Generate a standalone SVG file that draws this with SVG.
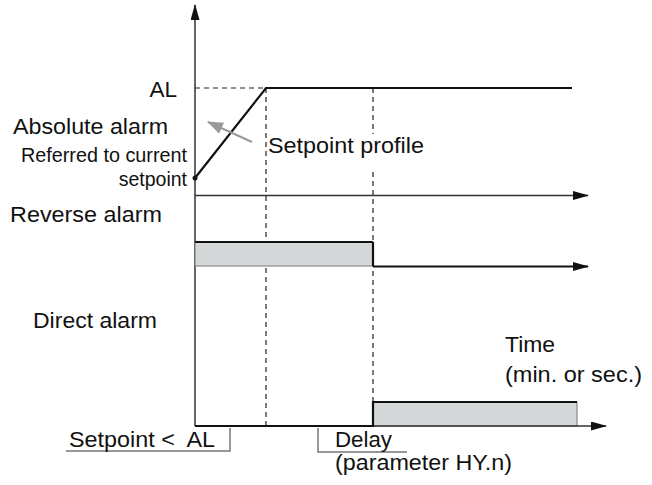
<svg xmlns="http://www.w3.org/2000/svg" width="652" height="485" viewBox="0 0 652 485">
<style>
text{font-family:"Liberation Sans",Arial,sans-serif;fill:#111}
.big{font-size:22.5px}
.sm{font-size:19.5px}
.axis{stroke:#333;stroke-width:1.5;fill:none}
.thick{stroke:#111;stroke-width:2.2;fill:none}
.dash{stroke:#222;stroke-width:1.2;stroke-dasharray:5,4;fill:none}
.brk{stroke:#777;stroke-width:1.5;fill:none}
.box{fill:#d5d8d8;stroke:#777;stroke-width:1}
</style>
<defs>
<marker id="ah" markerWidth="16" markerHeight="10" refX="15" refY="4.5" orient="auto" markerUnits="userSpaceOnUse">
<path d="M0,0 L16,4.5 L0,9 Z" fill="#111"/>
</marker>
<marker id="ahg" markerWidth="16" markerHeight="12" refX="15" refY="6" orient="auto" markerUnits="userSpaceOnUse">
<path d="M0,0 L16,6 L0,12 Z" fill="#999"/>
</marker>
</defs>
<g id="connectors">
<line class="axis" x1="195" y1="426" x2="195" y2="5" marker-end="url(#ah)"/>
<line class="axis" x1="195" y1="195.5" x2="588" y2="195.5" marker-end="url(#ah)"/>
<line class="dash" x1="195" y1="88" x2="266" y2="88"/>
<line class="dash" x1="266" y1="88" x2="266" y2="426"/>
<line class="dash" x1="373" y1="88" x2="373" y2="134"/>
<line class="dash" x1="373" y1="172" x2="373" y2="402"/>
<polyline class="thick" points="195,178 266,88 572,88"/>
<circle cx="195" cy="178" r="2.5" fill="#111"/>
<line x1="252" y1="142" x2="208" y2="122" stroke="#999" stroke-width="2" marker-end="url(#ahg)"/>
<rect class="box" x="195" y="242" width="178" height="24"/>
<line class="thick" x1="195" y1="242" x2="373" y2="242"/>
<line class="thick" x1="373" y1="242" x2="373" y2="266"/>
<line class="thick" x1="373" y1="266.5" x2="588" y2="266.5" marker-end="url(#ah)"/>
<rect class="box" x="373" y="402" width="204" height="24"/>
<line class="axis" x1="373" y1="426" x2="606" y2="426" marker-end="url(#ah)"/>
<polyline class="thick" points="195,426 373,426 373,402 577,402"/>
<polyline class="brk" points="66,451 230,451 230,428"/>
<polyline class="brk" points="318,428 318,452 407,452"/>
</g>
<g id="labels">
<text class="big" x="177" y="97" text-anchor="end">AL</text>
<text class="big" x="13" y="134" textLength="155" lengthAdjust="spacingAndGlyphs">Absolute alarm</text>
<text class="sm" x="21" y="162" textLength="166" lengthAdjust="spacingAndGlyphs">Referred to current</text>
<text class="sm" x="187" y="186" text-anchor="end">setpoint</text>
<text class="big" x="268" y="153" textLength="156" lengthAdjust="spacingAndGlyphs">Setpoint profile</text>
<text class="big" x="10" y="222" textLength="152" lengthAdjust="spacingAndGlyphs">Reverse alarm</text>
<text class="big" x="33" y="328" textLength="124" lengthAdjust="spacingAndGlyphs">Direct alarm</text>
<text class="big" x="505" y="352" textLength="50" lengthAdjust="spacingAndGlyphs">Time</text>
<text class="big" x="505" y="382" textLength="137" lengthAdjust="spacingAndGlyphs">(min. or sec.)</text>
<text class="big" x="69" y="447" textLength="146" lengthAdjust="spacingAndGlyphs" xml:space="preserve">Setpoint &lt;  AL</text>
<text class="big" x="335" y="447" textLength="57" lengthAdjust="spacingAndGlyphs">Delay</text>
<text class="big" x="335" y="470" textLength="177" lengthAdjust="spacingAndGlyphs">(parameter HY.n)</text>
</g>
</svg>
